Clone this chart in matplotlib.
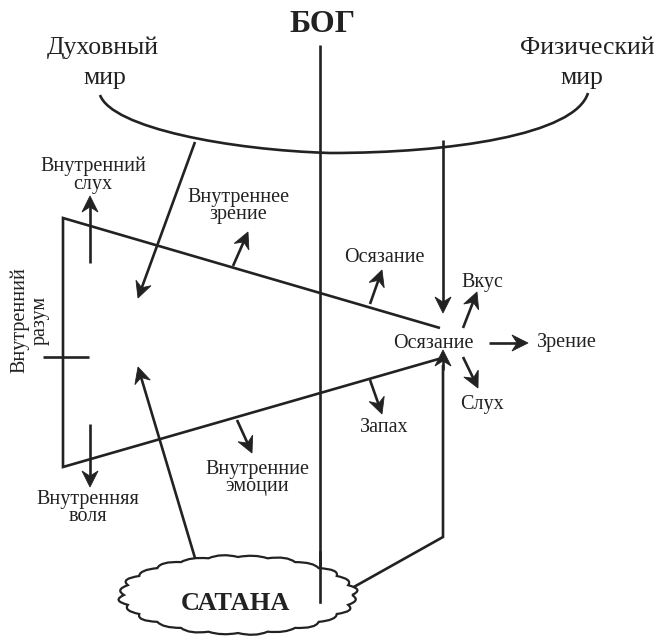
import numpy as np
import matplotlib
matplotlib.use("Agg")
import matplotlib.pyplot as plt
from matplotlib.patches import PathPatch, Polygon
from matplotlib.path import Path

# ---- texts ----
title_top = "БОГ"
title_bottom = "САТАНА"
world_labels = [["Духовный", "мир"], ["Физический", "мир"]]
inner_labels = ["Внутренний\nслух", "Внутреннее\nзрение", "Внутренний\nразум",
                "Внутренняя\nволя", "Внутренние\nэмоции"]
outer_labels = ["Осязание", "Вкус", "Осязание", "Зрение", "Слух", "Запах"]

# ---- layout ----
W, H = 659, 641
INK = "#222222"
SERIF = ["Liberation Serif", "DejaVu Serif"]

fig = plt.figure(figsize=(W / 100, H / 100), dpi=100)
ax = fig.add_axes([0, 0, 1, 1])
ax.set_xlim(0, W)
ax.set_ylim(H, 0)
ax.axis("off")

LW = 1.9


def line(pts, lw=LW, z=2):
    p = np.array(pts, dtype=float)
    ax.plot(p[:, 0], p[:, 1], color=INK, lw=lw, solid_capstyle="butt",
            solid_joinstyle="miter", zorder=z)


def arrow(a, b, lw=LW, L=16.0, w=8.0, notch=0.68):
    a = np.array(a, float)
    b = np.array(b, float)
    u = (b - a) / np.hypot(*(b - a))
    nrm = np.array([-u[1], u[0]])
    line([a, b - 0.6 * L * u], lw=lw)
    head = [b, b - L * u + w * nrm, b - notch * L * u, b - L * u - w * nrm]
    ax.add_patch(Polygon(head, closed=True, facecolor=INK, edgecolor=INK,
                         lw=0.6, joinstyle="miter", zorder=3))


def txt(x, y, s, size=14.5, weight="normal", ls=0.92, **kw):
    ax.text(x, y, s, fontsize=size, family=SERIF, color=INK, weight=weight,
            ha="center", va="center", linespacing=ls, **kw)


# God / world labels
txt(322, 25, title_top, size=23, weight="bold")
txt(103, 48, world_labels[0][0], size=18.5)
txt(105, 78, world_labels[0][1], size=18.5)
txt(587, 48, world_labels[1][0], size=18.5)
txt(582, 78, world_labels[1][1], size=18.5)

# vertical God line
line([(320, 45), (320, 602)])

# arc (world)
verts = [(100, 95), (112, 128), (230, 150), (330, 153),
         (450, 153), (575, 135), (588, 93)]
codes = [Path.MOVETO, Path.CURVE4, Path.CURVE4, Path.CURVE4,
         Path.CURVE4, Path.CURVE4, Path.CURVE4]
ax.add_patch(PathPatch(Path(verts, codes), fill=False, lw=LW, color=INK))

# arrows from the worlds
arrow((195, 142), (138, 298))
arrow((443, 140), (443, 313))

# trapezoid (soul)
line([(440, 328), (63, 218), (63, 467), (442, 358)])
line([(43, 357), (89, 357)])

# inner faculties
arrow((90, 263), (90, 196))
txt(93, 175, inner_labels[0])
arrow((233, 266), (248, 232))
txt(238, 206, inner_labels[1])
txt(30, 320, inner_labels[2], rotation=90, ls=1.05)
arrow((90, 424), (90, 487))
txt(88, 508, inner_labels[3])
arrow((237, 420), (252, 453))
txt(257, 478, inner_labels[4])

# outer senses
arrow((370, 304), (382, 270))
txt(384, 257, outer_labels[0])
arrow((463, 328), (477, 292))
txt(482, 283, outer_labels[1])
txt(433, 343, outer_labels[2])
arrow((489, 343), (528, 343))
txt(567, 343, outer_labels[3])
arrow((463, 357), (478, 388))
txt(482, 404, outer_labels[4])
arrow((370, 380), (382, 414))
txt(384, 428, outer_labels[5])

# Satan arrows
arrow((195, 558), (138, 367))
line([(352, 588), (443, 537), (443, 365)])
arrow((443, 370), (443, 350))

# cloud
cx, cy, rx, ry = 238, 595, 114, 38
n = 24
th = np.linspace(0, 2 * np.pi, n + 1)
px = cx + rx * np.cos(th)
py = cy + ry * np.sin(th)
verts = [(px[0], py[0])]
codes = [Path.MOVETO]
for i in range(n):
    mx, my = (px[i] + px[i + 1]) / 2, (py[i] + py[i + 1]) / 2
    dx, dy = mx - cx, my - cy
    d = np.hypot(dx / rx, dy / ry)
    k = 1.09 + 0.03 * (i % 2)
    ctrl = (cx + dx * k / d, cy + dy * k / d)
    verts += [ctrl, (px[i + 1], py[i + 1])]
    codes += [Path.CURVE3, Path.CURVE3]
ax.add_patch(PathPatch(Path(verts, codes), facecolor="white", edgecolor=INK,
                       lw=1.6, zorder=4))
ax.plot([320, 320], [552, 602], color=INK, lw=LW, zorder=5)
ax.text(235, 603, title_bottom, fontsize=19, family=SERIF, color=INK,
        weight="bold", ha="center", va="center", zorder=6)

fig.savefig("out.png", dpi=100, facecolor="white")
